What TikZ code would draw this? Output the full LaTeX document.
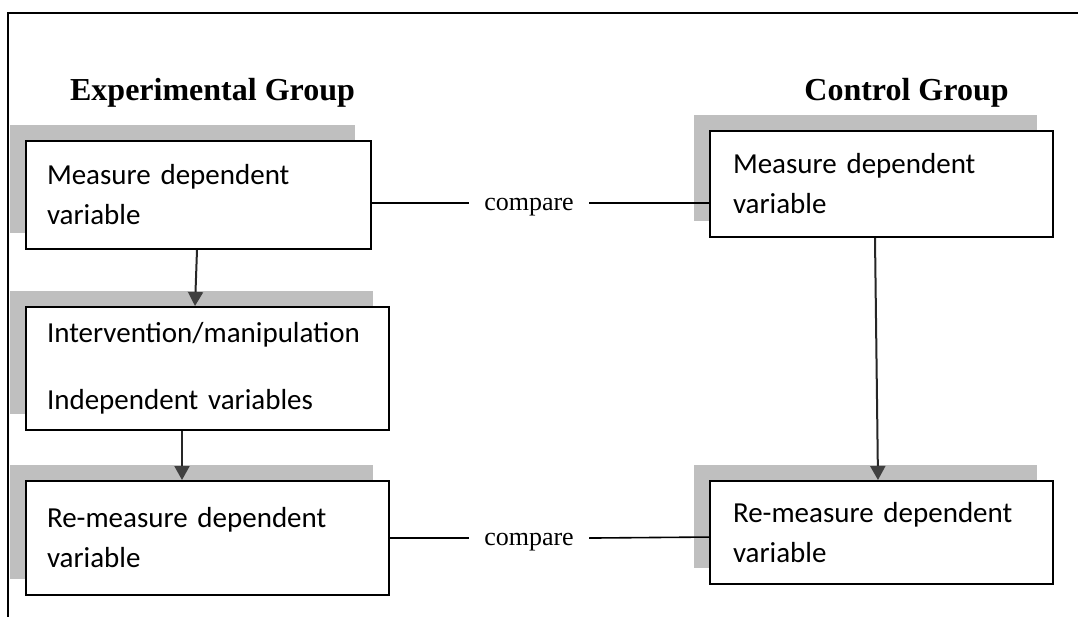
\documentclass[tikz,border=0pt]{standalone}
\usepackage{fontspec}
\setmainfont{Liberation Serif}
\newfontfamily\calibri[WordSpace=0.75]{Carlito}
\usetikzlibrary{arrows.meta,shadows}
\definecolor{shadowgray}{RGB}{191,191,191}
\definecolor{tipgray}{RGB}{64,64,64}
\tikzset{
  stepbox/.style={draw=black, line width=1pt, fill=white, rectangle,
    inner xsep=10.5pt, inner ysep=0pt, align=left,
    font=\calibri\fontsize{14.5}{20}\selectfont,
    drop shadow={shadow xshift=-8pt, shadow yshift=8pt, fill=shadowgray, opacity=1}},
  title/.style={font=\bfseries\fontsize{16}{19}\selectfont, anchor=base},
  cmp/.style={font=\fontsize{13}{15}\selectfont, inner xsep=7.5pt, inner ysep=2pt, anchor=base},
  flow/.style={draw=black!85, line width=1pt, -{Triangle[length=7pt,width=7.5pt,color=tipgray]}},
  link/.style={draw=black, line width=0.8pt},
  frame/.style={draw=black, line width=1pt}
}
\begin{document}
\begin{tikzpicture}[x=0.5pt,y=-0.5pt]
\useasboundingbox (0,0) rectangle (1078,617);
% outer frame (top and left sides)
\coordinate (ftl) at (8,13);
\coordinate (ftr) at (1078,13);
\coordinate (fbl) at (8,617);
\draw[frame] (ftr) -- (ftl) -- (fbl);

% titles
\node[title] (tExp) at (212.5,100) {Experimental Group};
\node[title] (tCon) at (906.5,100) {Control Group};

% boxes
\node[stepbox, minimum width=172.5pt, minimum height=54pt, text width=151.5pt] (b1) at (198.5,195)
  {Measure dependent\\variable};
\node[stepbox, minimum width=181.5pt, minimum height=61.5pt, text width=160.5pt] (b2) at (207.5,368.5)
  {Intervention/manipulation\\[13.5pt]Independent variables};
\node[stepbox, minimum width=181.5pt, minimum height=57pt, text width=160.5pt] (b3) at (207.5,538)
  {Re-measure dependent\\variable};
\node[stepbox, minimum width=171.5pt, minimum height=53pt, text width=148.5pt, inner xsep=11.5pt] (b4) at (881.5,184)
  {Measure dependent\\variable};
\node[stepbox, minimum width=171.5pt, minimum height=51.5pt, text width=148.5pt, inner xsep=11.5pt] (b5) at (881.5,532.5)
  {Re-measure dependent\\variable};

% compare labels
\node[cmp] (c1) at (529,210) {compare};
\node[cmp] (c2) at (529,545) {compare};
\coordinate (c1w) at ([yshift=1.8pt]c1.west);
\coordinate (c1e) at ([yshift=1.8pt]c1.east);
\coordinate (c2w) at ([yshift=1.8pt]c2.west);
\coordinate (c2e) at ([yshift=1.8pt]c2.east);

% arrows
\draw[flow] ([xshift=-0.75pt]b1.south) -- ([xshift=-6.25pt]b2.north);
\draw[flow] ([xshift=-12.75pt]b2.south) -- ([xshift=-12.75pt]b3.north);
\draw[flow] ([xshift=-3.25pt]b4.south) -- ([xshift=-1.75pt]b5.north);

% compare links
\draw[link] (b1.east |- c1w) -- (c1w);
\draw[link] (c1e) -- (b4.west |- c1e);
\draw[link] (b3.east |- c2w) -- (c2w);
\draw[link] (c2e) -- ([yshift=0.5pt]b5.west |- c2e);
\end{tikzpicture}
\end{document}
